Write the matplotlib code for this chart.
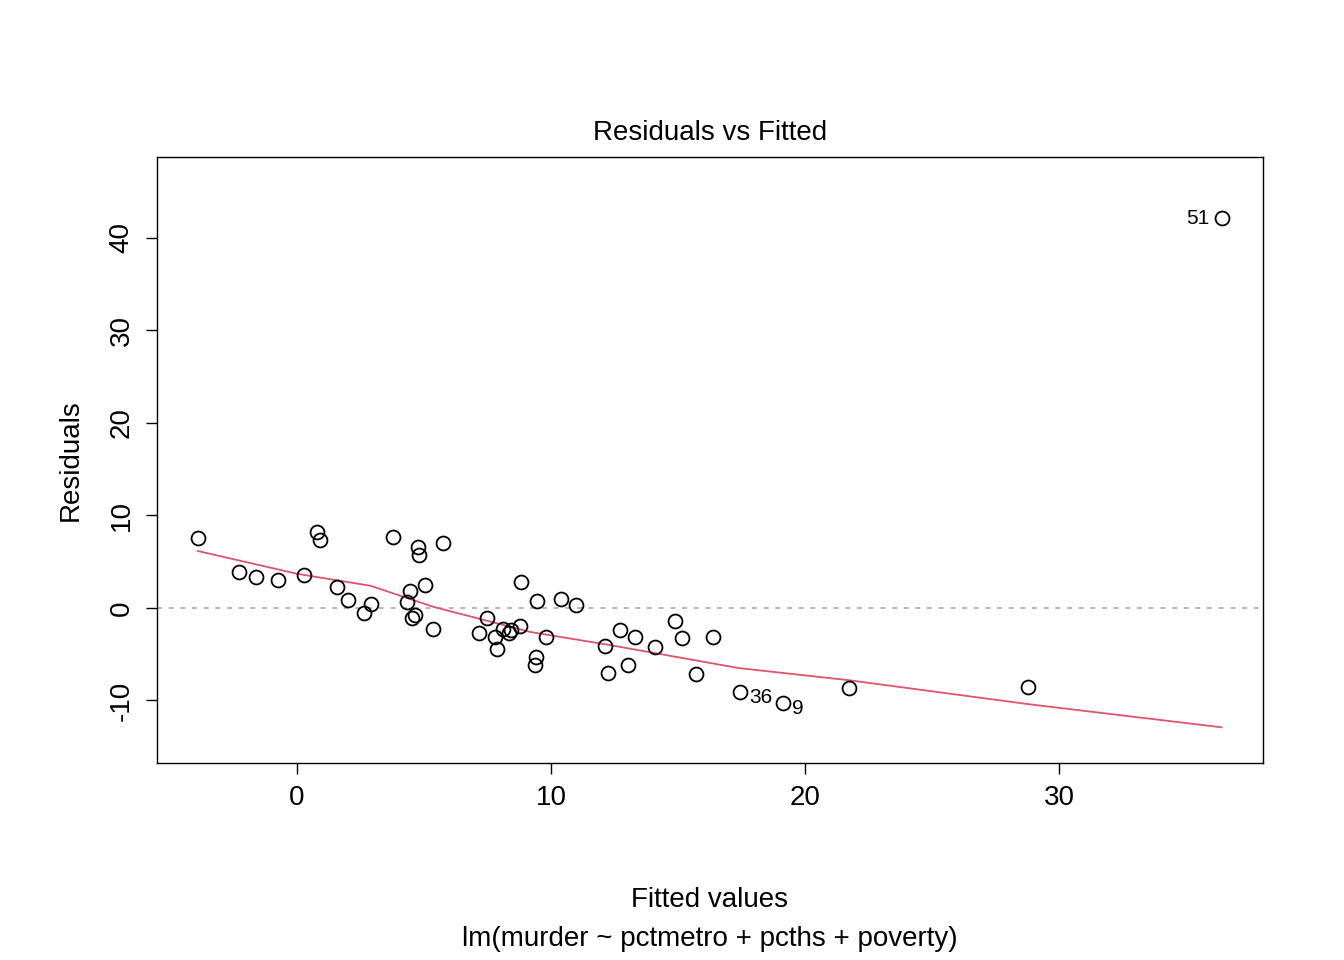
import matplotlib
matplotlib.use('Agg')
import matplotlib.pyplot as plt

plt.rcParams['font.family'] = ['Liberation Sans', 'DejaVu Sans']
plt.rcParams['axes.unicode_minus'] = False

# fitted values and residuals
fitted = [-3.90, -2.28, -1.61, -0.75, 0.28, 0.79, 0.91, 1.57, 2.01, 2.64, 2.91,
          3.78, 4.76, 4.80, 5.75, 4.45, 5.04, 4.33, 4.65, 4.53, 5.35,
          8.82, 9.45, 10.39, 10.98, 7.48, 7.17, 7.80, 7.87, 8.11, 8.35, 8.43, 8.78,
          9.80, 9.41, 9.37, 12.13, 12.24, 12.72, 13.03, 13.31, 14.09, 14.88, 15.16,
          15.71, 16.38, 17.44, 19.13, 21.73, 28.78, 36.42]
resid = [7.57, 3.89, 3.35, 3.03, 3.57, 8.22, 7.35, 2.27, 0.86, -0.54, 0.43,
         7.68, 6.59, 5.73, 7.03, 1.84, 2.49, 0.65, -0.76, -1.08, -2.27,
         2.81, 0.76, 0.97, 0.32, -1.08, -2.70, -3.14, -4.43, -2.27, -2.70, -2.38, -1.95,
         -3.14, -5.30, -6.16, -4.11, -7.03, -2.38, -6.16, -3.14, -4.22, -1.41, -3.24,
         -7.14, -3.14, -9.08, -10.27, -8.65, -8.54, 42.16]
labels = {46: '36', 47: '9', 50: '51'}

# smoother
smooth_x = [-3.9, 0.0, 2.9, 5.4, 9.2, 12.3, 17.4, 21.7, 28.8, 36.4]
smooth_y = [6.16, 3.7, 2.4, 0.1, -2.6, -4.0, -6.5, -7.8, -10.4, -12.9]

fig = plt.figure(figsize=(13.44, 9.6), dpi=100)
ax = fig.add_axes([0.1168, 0.2052, 0.8229, 0.6313])
ax.axhline(0, color='#aaaaaa', linestyle=(0, (3, 4)), linewidth=1.2)
ax.plot(smooth_x, smooth_y, color='#DF536B', linewidth=1.3)
ax.plot(fitted, resid, 'o', mfc='none', mec='black', ms=10, mew=1.3)

for i, t in labels.items():
    if t == '51':
        ax.text(fitted[i] - 0.5, resid[i], t, ha='right', va='center', fontsize=15)
    else:
        ax.text(fitted[i] + 0.35, resid[i] - 0.6, t, ha='left', va='center', fontsize=15)

ax.set_xlim(-5.51, 38.03)
ax.set_ylim(-16.76, 48.76)
ax.set_xticks([0, 10, 20, 30])
ax.set_yticks([-10, 0, 10, 20, 30, 40])
ax.tick_params(labelsize=20, length=8, width=1, pad=8)
for lab in ax.get_yticklabels():
    lab.set_rotation(90)
    lab.set_va('center')
for s in ax.spines.values():
    s.set_linewidth(1)

ax.set_title('Residuals vs Fitted', fontsize=20, pad=12)
ax.set_ylabel('Residuals', fontsize=20, labelpad=18)
fig.text(0.528, 0.0625, 'Fitted values', ha='center', va='center', fontsize=20)
fig.text(0.528, 0.022, 'lm(murder ~ pctmetro + pcths + poverty)', ha='center', va='center', fontsize=20)

fig.savefig('out.png', dpi=100)
